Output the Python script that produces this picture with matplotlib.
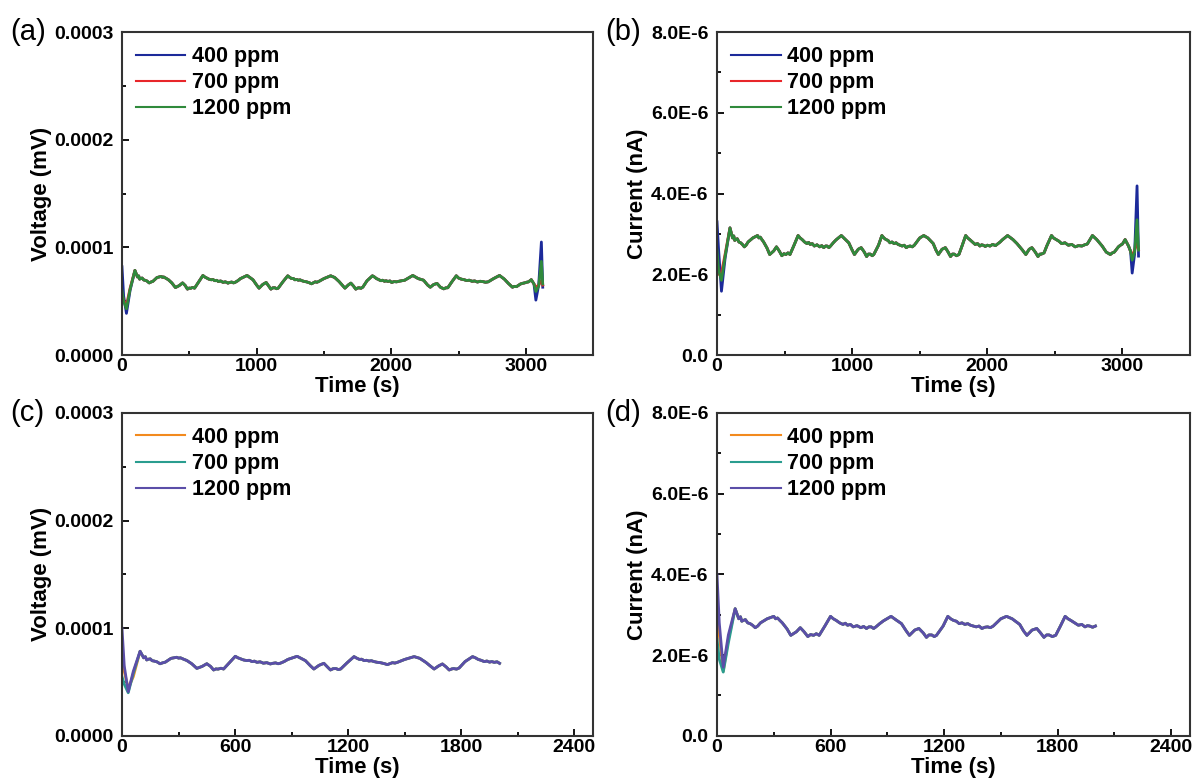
import numpy as np
import matplotlib
matplotlib.use("Agg")
import matplotlib.pyplot as plt
from matplotlib.ticker import MultipleLocator, FuncFormatter

plt.rcParams['font.family'] = ['Liberation Sans', 'DejaVu Sans']

# ---------------- data ----------------
# common voltage trace, units of 1e-5 mV
v_mid_t = [96, 115, 124, 131, 140, 150, 160, 170, 185, 202, 215, 230, 260, 291, 300, 310, 327,
           344, 370, 397, 425, 450, 470, 486, 498, 510, 525, 539, 570, 601, 615, 630, 645,
           663, 675, 690, 703, 716, 733, 750, 768, 787, 800, 815, 828, 840, 860, 880, 929,
           950, 973, 1000, 1018, 1045, 1071, 1090, 1106, 1120, 1135, 1148, 1160, 1195, 1231,
           1245, 1260, 1272, 1284, 1297, 1310, 1323, 1337, 1352, 1370, 1390, 1408, 1420, 1435,
           1448, 1461, 1500, 1550, 1580, 1612, 1635, 1656, 1680, 1700, 1720, 1736, 1750,
           1760, 1775, 1789, 1820, 1860, 1875, 1890, 1905, 1922, 1936, 1950, 1962, 1975, 1990,
           2003, 2020, 2040, 2060, 2080, 2100, 2120, 2160, 2200, 2240, 2270, 2290, 2315, 2340,
           2365, 2390, 2405, 2420, 2450, 2483, 2500, 2520, 2540, 2560, 2580, 2600, 2620,
           2640, 2660, 2680, 2700, 2720, 2760, 2804, 2840, 2870, 2900, 2915, 2930, 2960,
           2975, 2990, 3005, 3020, 3040]
v_mid = [7.86, 7.25, 7.35, 7.05, 7.12, 7.15, 6.98, 6.95, 6.88, 6.70, 6.78, 6.85, 7.20, 7.30, 7.22,
         7.25, 7.12, 7.00, 6.70, 6.27, 6.45, 6.70, 6.45, 6.12, 6.22, 6.20, 6.28, 6.21, 6.80,
         7.39, 7.25, 7.15, 7.05, 6.99, 7.02, 6.90, 6.94, 6.83, 6.88, 6.75, 6.80, 6.68, 6.74,
         6.78, 6.70, 6.75, 6.90, 7.10, 7.39, 7.20, 6.99, 6.50, 6.21, 6.55, 6.74, 6.40, 6.12,
         6.24, 6.25, 6.16, 6.21, 6.80, 7.36, 7.22, 7.10, 7.12, 6.99, 7.02, 6.95, 6.98, 6.90,
         6.84, 6.80, 6.72, 6.62, 6.70, 6.80, 6.76, 6.83, 7.10, 7.36, 7.20, 6.83, 6.50, 6.21,
         6.50, 6.68, 6.40, 6.12, 6.22, 6.25, 6.20, 6.31, 6.90, 7.36, 7.25, 7.10, 7.02, 6.90,
         6.95, 6.85, 6.90, 6.83, 6.88, 6.74, 6.82, 6.80, 6.86, 6.90, 6.95, 7.10, 7.39, 7.10,
         6.95, 6.50, 6.30, 6.55, 6.65, 6.30, 6.15, 6.24, 6.25, 6.80, 7.36, 7.15, 7.05, 7.00,
         6.92, 6.95, 6.85, 6.88, 6.78, 6.85, 6.82, 6.76, 6.80, 7.10, 7.39, 7.05, 6.65, 6.30,
         6.38, 6.35, 6.60, 6.66, 6.70, 6.76, 6.80, 7.00]

# common current trace, units of 1e-6 nA
i_mid_t = [96, 115, 124, 131, 140, 150, 162, 175, 188, 202, 215, 230, 265, 300, 310, 320, 332,
           345, 370, 390, 420, 440, 460, 480, 495, 510, 525, 540, 570, 600, 615, 630, 648,
           666, 678, 690, 705, 720, 740, 760, 775, 790, 803, 815, 828, 840, 860, 880, 920,
           950, 975, 1000, 1017, 1045, 1067, 1090, 1107, 1120, 1135, 1148, 1160, 1195, 1220,
           1235, 1250, 1265, 1280, 1295, 1310, 1325, 1340, 1355, 1370, 1385, 1400, 1415,
           1430, 1445, 1460, 1500, 1530, 1560, 1600, 1620, 1638, 1665, 1690, 1710, 1728,
           1742, 1755, 1772, 1790, 1815, 1840, 1855, 1870, 1890, 1910, 1928, 1945, 1958, 1970,
           1985, 2000, 2020, 2040, 2060, 2080, 2095, 2110, 2150, 2190, 2220, 2260, 2285,
           2310, 2330, 2355, 2375, 2390, 2400, 2420, 2440, 2475, 2490, 2510, 2530, 2550,
           2575, 2600, 2625, 2650, 2675, 2700, 2720, 2740, 2778, 2810, 2850, 2880, 2895,
           2910, 2925, 2940, 2970, 2985, 3000, 3020, 3045]
i_mid = [3.15, 2.90, 2.95, 2.84, 2.86, 2.88, 2.80, 2.78, 2.74, 2.68, 2.72, 2.80, 2.90, 2.96, 2.90,
         2.92, 2.86, 2.80, 2.65, 2.49, 2.58, 2.68, 2.58, 2.46, 2.51, 2.49, 2.53, 2.49, 2.72,
         2.96, 2.90, 2.86, 2.80, 2.76, 2.79, 2.74, 2.76, 2.70, 2.73, 2.68, 2.71, 2.66, 2.70,
         2.70, 2.66, 2.70, 2.78, 2.85, 2.96, 2.86, 2.78, 2.60, 2.49, 2.62, 2.66, 2.55, 2.44,
         2.50, 2.50, 2.46, 2.49, 2.72, 2.96, 2.90, 2.86, 2.84, 2.78, 2.80, 2.76, 2.78, 2.74,
         2.72, 2.70, 2.72, 2.66, 2.69, 2.70, 2.68, 2.72, 2.90, 2.96, 2.90, 2.76, 2.60, 2.49,
         2.62, 2.66, 2.55, 2.44, 2.50, 2.50, 2.46, 2.49, 2.72, 2.96, 2.90, 2.86, 2.80, 2.74,
         2.76, 2.70, 2.73, 2.72, 2.69, 2.72, 2.70, 2.74, 2.71, 2.76, 2.80, 2.85, 2.96, 2.86,
         2.76, 2.60, 2.49, 2.62, 2.66, 2.55, 2.44, 2.50, 2.50, 2.53, 2.70, 2.96, 2.90, 2.86,
         2.82, 2.76, 2.78, 2.72, 2.74, 2.68, 2.71, 2.70, 2.73, 2.75, 2.96, 2.86, 2.70, 2.55,
         2.52, 2.49, 2.53, 2.55, 2.68, 2.72, 2.75, 2.86, 2.70]

labels = ['400 ppm', '700 ppm', '1200 ppm']
colors_top = ['#1c2a9a', '#e8262a', '#2f8a3c']
colors_bot = ['#f28a1e', '#2a9d8f', '#5b4ea8']

# start / end transients per series
head_t = [0, 12, 33, 60]
a_head = [[8.2, 5.5, 3.87, 6.0], [5.6, 5.1, 4.6, 6.2], [6.0, 5.0, 4.3, 6.1]]
a_tail_t = [3060, 3074, 3095, 3115, 3125]
a_tail = [[6.6, 5.1, 6.5, 10.5, 6.3], [6.6, 6.3, 6.5, 6.9, 6.5], [6.6, 5.9, 6.4, 8.7, 6.6]]

b_head = [[3.30, 2.60, 1.58, 2.40], [2.30, 2.00, 2.03, 2.50], [2.60, 2.10, 1.85, 2.45]]
b_tail_t = [3060, 3072, 3090, 3108, 3119]
b_tail = [[2.57, 2.03, 2.50, 4.19, 2.45], [2.57, 2.45, 2.60, 2.80, 2.61], [2.57, 2.35, 2.55, 3.35, 2.60]]

c_head = [[8.3, 6.0, 4.4, 5.5], [5.5, 4.8, 4.0, 5.8], [10.0, 6.5, 4.1, 6.0]]
d_head = [[3.28, 2.50, 1.60, 2.40], [2.40, 1.90, 1.58, 2.30], [4.00, 2.80, 1.70, 2.50]]
c_end = 2003
d_end = 2000

# ---------------- figure ----------------
fig = plt.figure(figsize=(11.96, 7.82), dpi=100)
ax_a = fig.add_axes([0.102, 0.546, 0.394, 0.413])
ax_b = fig.add_axes([0.5995, 0.546, 0.3955, 0.413])
ax_c = fig.add_axes([0.102, 0.059, 0.394, 0.413])
ax_d = fig.add_axes([0.5995, 0.059, 0.3955, 0.413])


def build(head, mid_t, mid_v, tail_t=None, tail=None, end=None):
    mt = np.array(mid_t, float)
    mv = np.array(mid_v, float)
    if end is not None:
        keep = mt <= end
        mt, mv = mt[keep], mv[keep]
    t = list(head_t) + list(mt)
    v = list(head) + list(mv)
    if tail_t is not None:
        t += list(tail_t)
        v += list(tail)
    return np.array(t), np.array(v)


def style(ax, ylabel, ymax, ymaj, xmax, xmaj, fmt, letter):
    ax.set_ylim(0, ymax)
    ax.set_xlim(0, xmax)
    ax.yaxis.set_major_locator(MultipleLocator(ymaj))
    ax.yaxis.set_minor_locator(MultipleLocator(ymaj / 2))
    ax.xaxis.set_major_locator(MultipleLocator(xmaj))
    ax.xaxis.set_minor_locator(MultipleLocator(xmaj / 2))
    ax.yaxis.set_major_formatter(FuncFormatter(fmt))
    ax.tick_params(which='both', direction='in', top=False, right=False,
                   labelsize=14, width=1.3)
    ax.tick_params(axis='y', which='major', length=5, pad=6)
    ax.tick_params(axis='x', which='major', length=5, pad=2)
    ax.tick_params(which='minor', length=3)
    for lab in ax.get_xticklabels() + ax.get_yticklabels():
        lab.set_fontweight('bold')
    for sp in ax.spines.values():
        sp.set_linewidth(1.5)
        sp.set_color('#333333')
    ax.set_xlabel('Time (s)', fontsize=16, fontweight='bold', labelpad=1)
    ax.set_ylabel(ylabel, fontsize=16, fontweight='bold', labelpad=2)
    leg = ax.legend(loc='upper left', frameon=False, handlelength=2.3,
                    labelspacing=0.24, borderaxespad=0.25, handletextpad=0.3,
                    prop={'weight': 'bold', 'size': 15.5})
    for h in leg.get_lines():
        h.set_linewidth(1.5)
    ax.text(-0.237, 1.0, letter, transform=ax.transAxes, fontsize=21,
            ha='left', va='center')


def vfmt(x, pos):
    return '%.4f' % x


def ifmt(x, pos):
    if abs(x) < 1e-12:
        return '0.0'
    return '%.1fE-6' % (x * 1e6)


for k in range(3):
    t, v = build(a_head[k], v_mid_t, v_mid, a_tail_t, a_tail[k])
    ax_a.plot(t, v * 1e-5, color=colors_top[k], lw=2.0, label=labels[k])
    t, v = build(b_head[k], i_mid_t, i_mid, b_tail_t, b_tail[k])
    ax_b.plot(t, v * 1e-6, color=colors_top[k], lw=2.0, label=labels[k])
    t, v = build(c_head[k], v_mid_t, v_mid, end=c_end)
    ax_c.plot(t, v * 1e-5, color=colors_bot[k], lw=2.0, label=labels[k])
    t, v = build(d_head[k], i_mid_t, i_mid, end=d_end)
    ax_d.plot(t, v * 1e-6, color=colors_bot[k], lw=2.0, label=labels[k])

style(ax_a, 'Voltage (mV)', 0.0003, 0.0001, 3500, 1000, vfmt, '(a)')
style(ax_b, 'Current (nA)', 8e-6, 2e-6, 3500, 1000, ifmt, '(b)')
style(ax_c, 'Voltage (mV)', 0.0003, 0.0001, 2500, 600, vfmt, '(c)')
style(ax_d, 'Current (nA)', 8e-6, 2e-6, 2500, 600, ifmt, '(d)')
ax_c.xaxis.set_minor_locator(MultipleLocator(300))
ax_d.xaxis.set_minor_locator(MultipleLocator(300))

fig.savefig('out.png', dpi=100)
